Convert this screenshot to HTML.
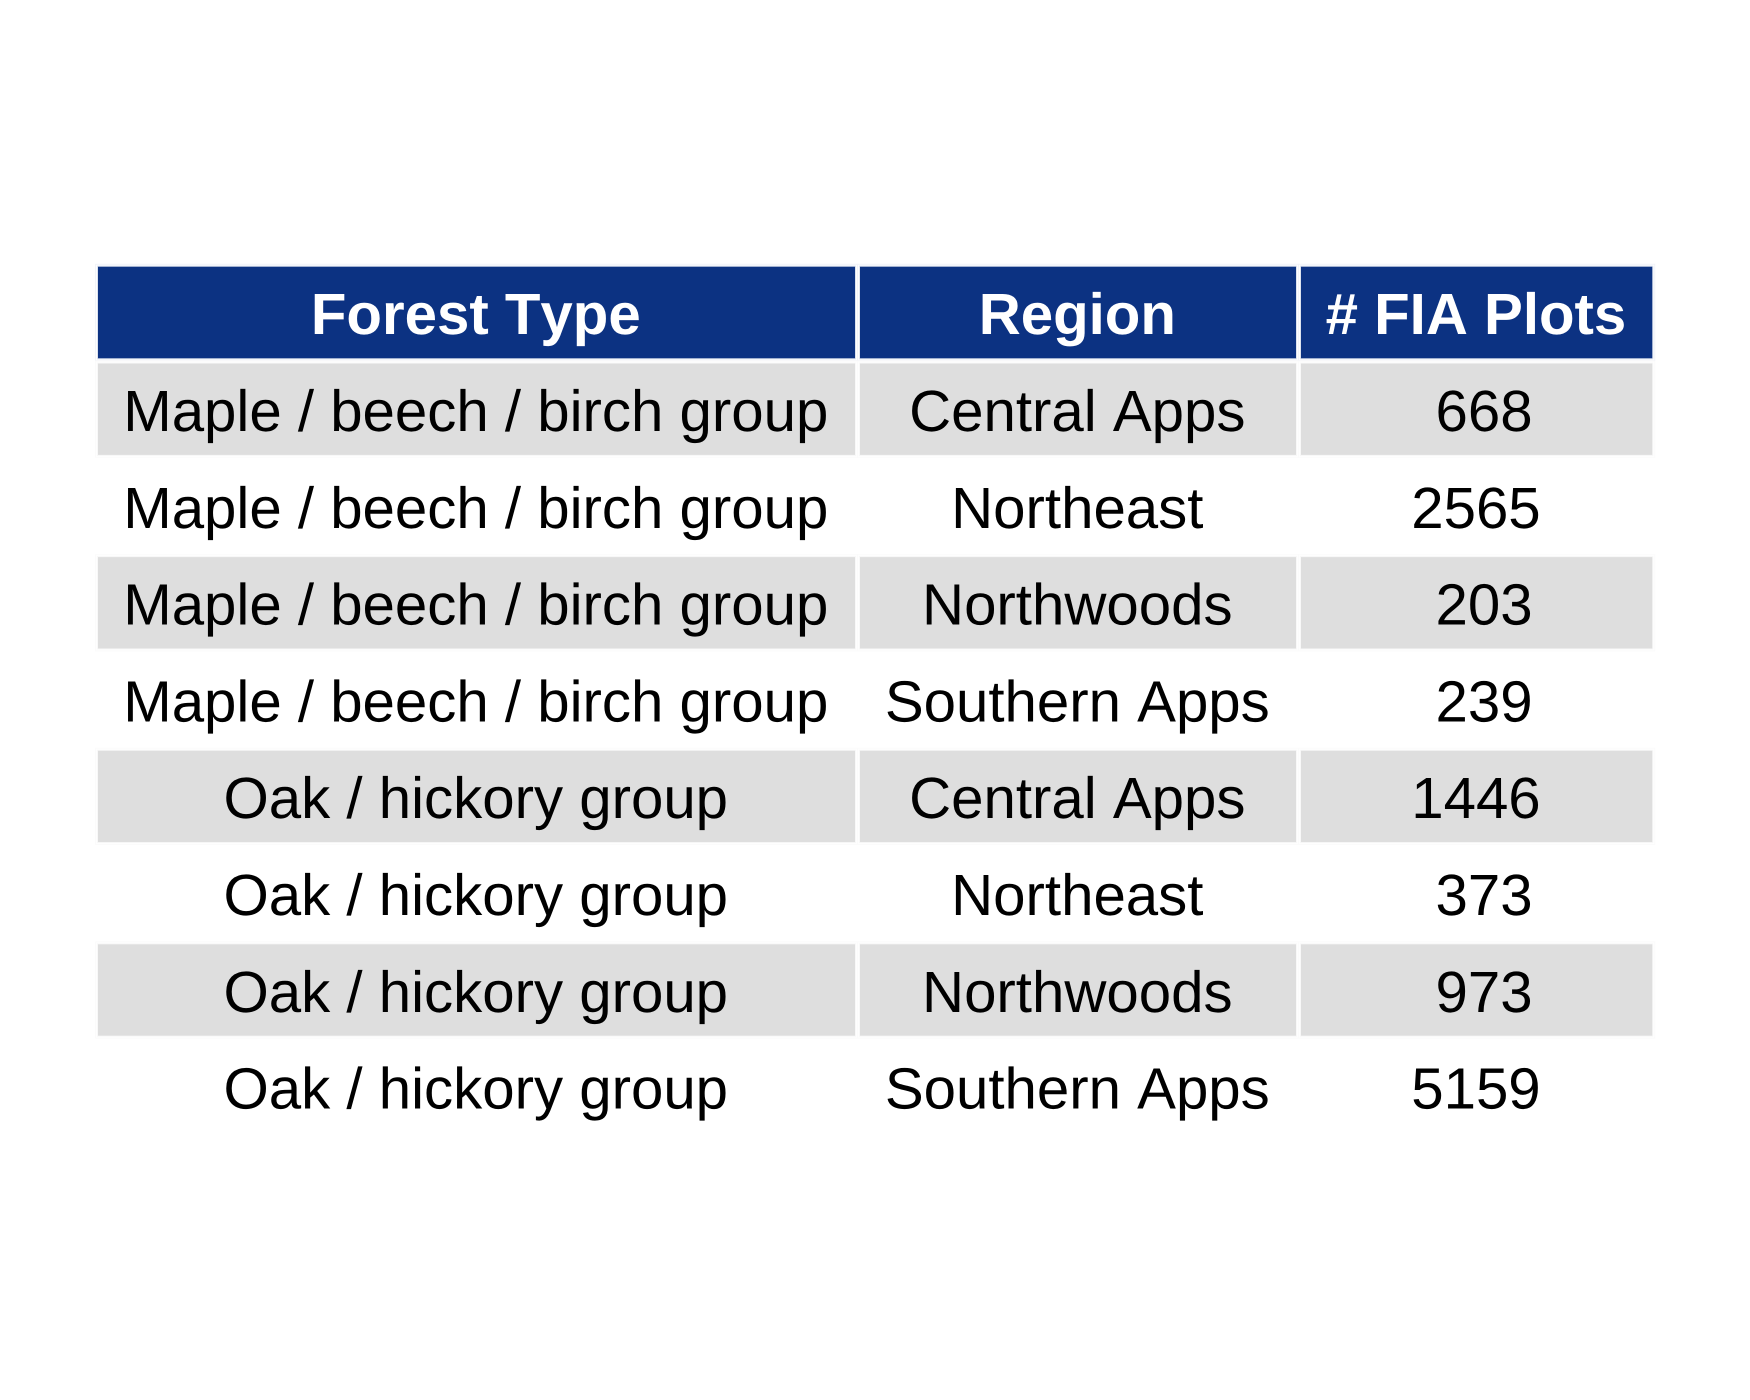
<!DOCTYPE html>
<html lang="en">
<head>
<meta charset="utf-8">
<title>Forest Type Table</title>
<style>
html,body{margin:0;padding:0;background:#fff;width:1750px;height:1400px;overflow:hidden}
svg{display:block}
text{font-family:"Liberation Sans",Arial,sans-serif;font-size:58.2px;text-anchor:middle;white-space:pre;font-kerning:none;text-rendering:geometricPrecision}
</style>
</head>
<body>
<svg id="table" width="1750" height="1400" viewBox="0 0 1750 1400" xmlns="http://www.w3.org/2000/svg"></svg>
<script>
const headers = ["Forest Type", "Region", "# FIA Plots"];
const forestTypes = ["Maple / beech / birch group", "Maple / beech / birch group", "Maple / beech / birch group", "Maple / beech / birch group", "Oak / hickory group", "Oak / hickory group", "Oak / hickory group", "Oak / hickory group"];
const regions = ["Central Apps", "Northeast", "Northwoods", "Southern Apps", "Central Apps", "Northeast", "Northwoods", "Southern Apps"];
const plotCounts = [668, 2565, 203, 239, 1446, 373, 973, 5159];

const svg = document.getElementById('table');
const NS = 'http://www.w3.org/2000/svg';
const colEdges = [[98, 855], [860, 1296], [1301, 1652.3]];
const headerTop = 266.7, headerH = 91.6;
const rowTop0 = 363.5, rowPitch = 96.8, rowH = 91.4;
const headerBaseline = 334, rowBaseline0 = 431;

function rowTop(i) { return rowTop0 + i * rowPitch; }
function colCenter(c) { return (colEdges[c][0] + colEdges[c][1]) / 2 - 0.7; }

function addFrame(x0, x1, y, h, offset, color, name) {
  const f = document.createElementNS(NS, 'rect');
  
  
  f.setAttribute('x', x0 - offset);
  f.setAttribute('y', y - offset);
  f.setAttribute('width', x1 - x0 + 2 * offset);
  f.setAttribute('height', h + 2 * offset);
  f.setAttribute('fill', 'none');
  f.setAttribute('stroke', color);
  f.setAttribute('stroke-width', '1');
  svg.appendChild(f);
}

function addCell(x0, x1, y, h, fill, outerColor, innerColor, name) {
  addFrame(x0, x1, y, h, 2.4, outerColor, name + '-outer-border');
  addFrame(x0, x1, y, h, 0.5, innerColor, name + '-inner-border');
  const r = document.createElementNS(NS, 'rect');
  
  
  r.setAttribute('x', x0);
  r.setAttribute('y', y);
  r.setAttribute('width', x1 - x0);
  r.setAttribute('height', h);
  r.setAttribute('fill', fill);
  svg.appendChild(r);
}

function addText(str, x, y, color, bold, name) {
  const t = document.createElementNS(NS, 'text');
  
  
  t.setAttribute('x', x);
  t.setAttribute('y', y);
  t.setAttribute('fill', color);
  if (bold) t.setAttribute('font-weight', 'bold');
  t.setAttribute('xml:space', 'preserve');
  t.textContent = str;
  svg.appendChild(t);
}

headers.forEach(function (h, c) {
  addCell(colEdges[c][0], colEdges[c][1], headerTop, headerH, '#0c3282', '#f1f3f8', '#dde3ef', 'header-cell-' + (c + 1));
  addText(h, colCenter(c), headerBaseline, '#ffffff', true, 'header-label-' + (c + 1));
});

plotCounts.forEach(function (v, i) {
  const label = String(v).padStart(4, ' ');
  const values = [forestTypes[i], regions[i], label];
  const shaded = i % 2 === 0;
  values.forEach(function (val, c) {
    if (shaded) addCell(colEdges[c][0], colEdges[c][1], rowTop(i), rowH, '#dedede', '#fbfbfb', '#f8f8f8', 'row-' + (i + 1) + '-cell-' + (c + 1));
    addText(val, colCenter(c), rowBaseline0 + i * rowPitch, '#000000', false, 'row-' + (i + 1) + '-text-' + (c + 1));
  });
});
</script>
</body>
</html>
